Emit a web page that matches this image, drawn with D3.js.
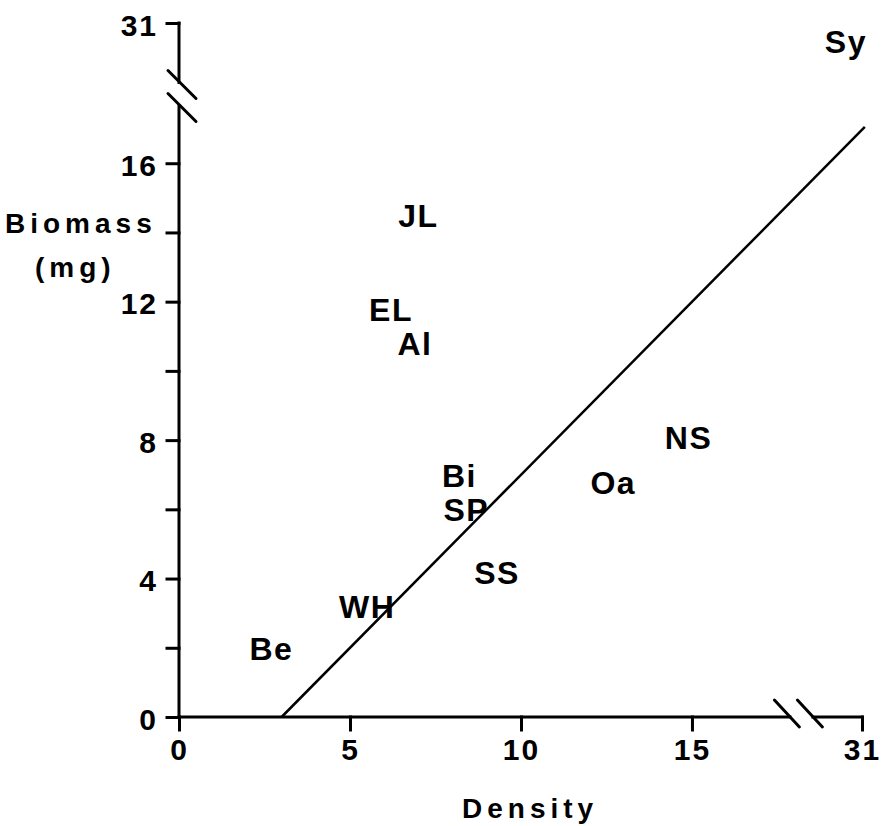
<!DOCTYPE html>
<html><head><meta charset="utf-8">
<script src="https://cdn.jsdelivr.net/npm/d3@7"></script>
<style>body{margin:0;background:#fff}svg{display:block}</style>
</head><body>
<svg id="c" width="881" height="826"></svg>
<script>
// ---- data ----
const labels  = ["Sy","JL","EL","Al","Bi","SP","SS","Oa","NS","WH","Be"];
const density = [27.6, 7.0, 6.2, 6.9, 8.2, 8.4, 9.3, 12.7, 14.9, 5.5, 2.7];
const biomass = [27.7, 14.5, 11.8, 10.8, 7.0, 6.0, 4.2, 6.8, 8.1, 3.2, 2.0];
const xTicks = [0, 5, 10, 15, 31];
const yTicks = [0, 2, 4, 6, 8, 10, 12, 14, 16, 31];
const yTickLabels = ["0", "", "4", "", "8", "", "12", "", "16", "31"];
const fitDensity = [3.0, 31.6];
const fitBiomass = [0, 17.05];
const xBreak = 18.2, yBreak = 18;

// ---- drawing ----
const svg = d3.select("#c");
const FONT = "'Liberation Sans', Arial, Helvetica, sans-serif";
const x = d3.scaleLinear().domain([0, xBreak, 31]).range([179, 801.4, 862]);
const y = d3.scaleLinear().domain([0, yBreak, 31]).range([717, 94, 23]);
const x0 = x(0), y0 = y(0);
const LW = 3;

// y axis
const ya = svg.append("g").attr("transform", `translate(${x0},0)`)
  .call(d3.axisLeft(y).tickValues(yTicks).tickSize(12).tickPadding(9)
        .tickFormat((d, i) => yTickLabels[i]));
ya.select(".domain").remove();
ya.selectAll("line").attr("stroke", "#000").attr("stroke-width", LW).attr("stroke-linecap", "square");
ya.selectAll("text").attr("dy", "0.4em").style("font-family", FONT).style("font-size", "30px")
  .style("font-weight", "bold").style("letter-spacing", "2px").attr("fill", "#000");

// x axis
const xa = svg.append("g").attr("transform", `translate(0,${y0})`)
  .call(d3.axisBottom(x).tickValues(xTicks).tickSize(13).tickPadding(9).tickFormat(d3.format("d")));
xa.select(".domain").remove();
xa.selectAll("line").attr("stroke", "#000").attr("stroke-width", LW).attr("stroke-linecap", "square");
xa.selectAll("text").style("font-family", FONT).style("font-size", "30px")
  .style("font-weight", "bold").style("letter-spacing", "2px").attr("fill", "#000");

// axis lines with breaks
const yb = y(yBreak), xb = x(xBreak);
const gap = 11.5;
const dom = svg.append("g").attr("stroke", "#000").attr("stroke-width", LW)
  .attr("fill", "none").attr("stroke-linecap", "square");
dom.append("path").attr("d", `M${x0},${y(31)}V${yb - gap}`);
dom.append("path").attr("d", `M${x0},${yb + gap}V${y0}`);
dom.append("path").attr("d", `M${x0},${y0}H${xb - gap}`);
dom.append("path").attr("d", `M${xb + gap},${y0}H${x(31)}`);
// break slashes
const sl = svg.append("g").attr("stroke", "#000").attr("stroke-width", LW).attr("stroke-linecap", "round");
[yb - gap, yb + gap].forEach(cy => {
  sl.append("line").attr("x1", x0 - 11).attr("y1", cy - 12).attr("x2", x0 + 17).attr("y2", cy + 16);
});
[xb - gap, xb + gap].forEach(cx => {
  sl.append("line").attr("x1", cx - 15.5).attr("y1", y0 - 17).attr("x2", cx + 9.5).attr("y2", y0 + 10);
});

// regression line
svg.append("line")
  .attr("x1", x(fitDensity[0])).attr("y1", y(fitBiomass[0]))
  .attr("x2", x(fitDensity[1])).attr("y2", y(fitBiomass[1]))
  .attr("stroke", "#000").attr("stroke-width", 2.5);

// point labels
svg.append("g").selectAll("text").data(labels).join("text")
  .attr("x", (d, i) => x(density[i]))
  .attr("y", (d, i) => y(biomass[i]) + 12)
  .attr("text-anchor", "middle")
  .style("font-family", FONT).style("font-size", "32px").style("font-weight", "bold")
  .style("letter-spacing", "1.5px")
  .text(d => d);

// axis titles
const tt = svg.append("g").style("font-family", FONT).style("font-size", "28px")
  .style("font-weight", "bold").style("letter-spacing", "5px");
tt.append("text").attr("x", 5).attr("y", 233).text("Biomass");
tt.append("text").attr("x", 35).attr("y", 277).text("(mg)");
tt.append("text").attr("x", 462).attr("y", 818).text("Density");
</script>
</body></html>
